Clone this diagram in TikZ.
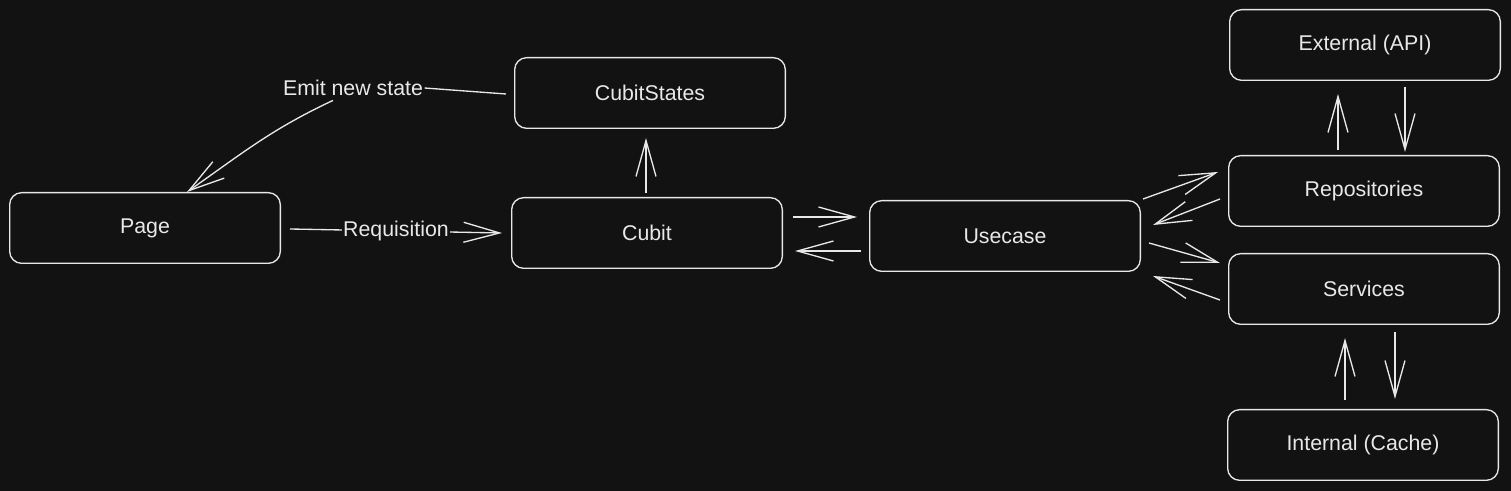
\documentclass[tikz,border=0pt]{standalone}
\usepackage{fontspec}
\setmainfont{Liberation Sans}
\usetikzlibrary{arrows.meta,calc}
\definecolor{bgdark}{HTML}{121212}
\definecolor{ink}{HTML}{E8E8E8}
\begin{document}
\begin{tikzpicture}[x=0.75pt, y=-0.75pt,
	box/.style={draw=ink, line width=1pt, rounded corners=9pt, minimum width=203pt, minimum height=53pt, text=ink, font=\fontsize{16}{19}\selectfont},
	tag/.style={fill=bgdark, text=ink, inner sep=1pt, font=\fontsize{16}{19}\selectfont},
	link/.style={draw=ink, line width=1pt},
	flow/.style={link, -{Straight Barb[length=27pt, width=15pt, line width=1pt]}}]
	        \fill [bgdark] (0, 0) rectangle (1511, 491);
	        % left part
	        \node [box] at (650, 93) (CS) {CubitStates};
	        \node [box] at (145, 228) (Page) {Page};
	        \node [box] at (647, 233) (Cubit) {Cubit};
	        \node [box] at (1005, 236) (Use) {Usecase};
	        % right column
	        \node [box] at (1365, 45) (Ext) {External (API)};
	        \node [box] at (1364, 191) (Repo) {Repositories};
	        \node [box] at (1364, 289) (Serv) {Services};
	        \node [box] at (1363, 445) (Int) {Internal (Cache)};
	        \node [tag] at (353, 88) (Emit) {Emit new state};
	        \draw [link] ($(CS.west)+(-8, 1)$) -- (Emit.east);
	        \draw [flow] ($(Emit.south)+(-20, 3)$) to[out=205, in=35] ($(Page.north)+(42, 0)$);
	        \draw [flow] ($(Page.east)+(9, 1)$) -- ($(Cubit.west)+(-9, 0)$) node [tag, midway] {Requisition};
	        \draw [flow] ($(Cubit.north)+(-1, -4)$) -- ($(CS.south)+(-4, 9)$);
	        \draw [flow] ($(Cubit.east)+(10, -16)$) -- ($(Use.west)+(-12, -19)$);
	        \draw [flow] ($(Use.west)+(-8, 15)$) -- ($(Cubit.east)+(12, 18)$);
	        \draw [flow] ($(Use.east)+(2, -37)$) -- ($(Repo.west)+(-10, -19)$);
	        \draw [flow] ($(Repo.west)+(-8, 8)$) -- ($(Use.east)+(12, -11)$);
	        \draw [flow] ($(Use.east)+(8, 7)$) -- ($(Serv.west)+(-8, -26)$);
	        \draw [flow] ($(Serv.west)+(-8, 11)$) -- ($(Use.east)+(12, 40)$);
	        \draw [flow] ($(Repo.north)+(-26, -5)$) -- ($(Ext.south)+(-27, 13)$);
	        \draw [flow] ($(Ext.south)+(40, 6)$) -- ($(Repo.north)+(41, -3)$);
	        \draw [flow] ($(Int.north)+(-18, -9)$) -- ($(Serv.south)+(-19, 13)$);
	        \draw [flow] ($(Serv.south)+(31, 7)$) -- ($(Int.north)+(32, -10)$);
\end{tikzpicture}
\end{document}
